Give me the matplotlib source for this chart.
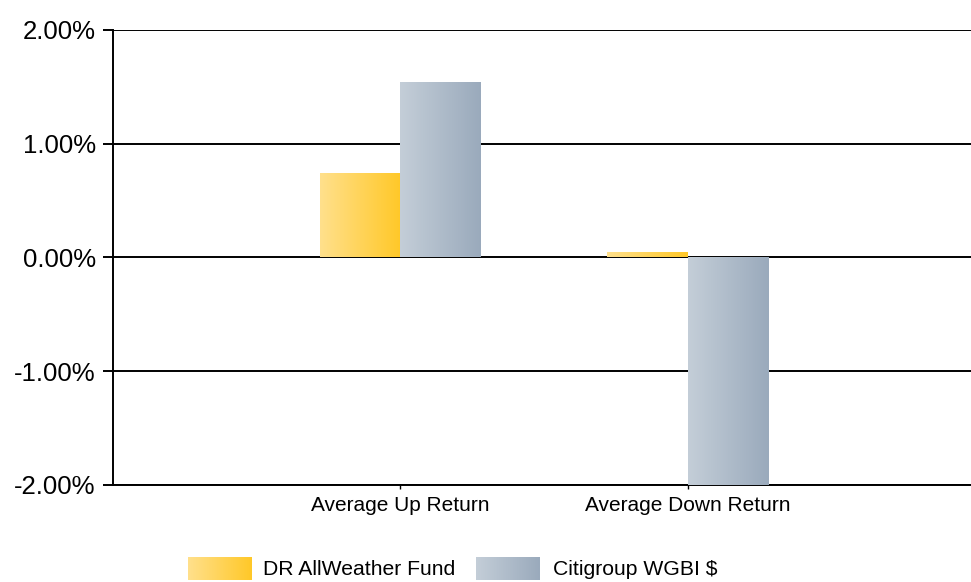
import numpy as np
import matplotlib.pyplot as plt
from matplotlib.colors import LinearSegmentedColormap

plt.rcParams['font.family'] = ['Liberation Sans', 'DejaVu Sans']

categories = ["Average Up Return", "Average Down Return"]
series_names = ["DR AllWeather Fund", "Citigroup WGBI $"]
fund = [0.73, 0.04]
index = [1.53, -2.00]
yticks = [-2, -1, 0, 1, 2]

yellow = LinearSegmentedColormap.from_list("yel", ["#FFE08C", "#FFC828"])
grey = LinearSegmentedColormap.from_list("gry", ["#C4CED8", "#9AAABC"])
grad = np.linspace(0, 1, 256).reshape(1, -1)

fig = plt.figure(figsize=(9.71, 5.82), dpi=100)
ax = fig.add_axes([0.1164, 0.1667, 0.888, 0.7818])

x = np.arange(len(categories))
w = 0.28
b1 = ax.bar(x - w / 2, fund, w, color="none", zorder=3)
b2 = ax.bar(x + w / 2, index, w, color="none", zorder=3)

# gradient fill for each bar
for bars, cm in [(b1, yellow), (b2, grey)]:
    for r in bars:
        x0, y0 = r.get_x(), r.get_y()
        x1, y1 = x0 + r.get_width(), y0 + r.get_height()
        ax.imshow(grad, cmap=cm, aspect="auto", zorder=3,
                  extent=[x0, x1, min(y0, y1), max(y0, y1)])

ax.set_xlim(-1, 2)
ax.set_ylim(-2, 2)
ax.set_yticks(yticks)
ax.set_yticklabels(["%.2f%%" % v for v in yticks])
ax.set_xticks(x)
ax.set_xticklabels(categories)

ax.grid(axis="y", color="black", linewidth=1.4, zorder=1)
ax.set_axisbelow(True)
for s in ["top", "right"]:
    ax.spines[s].set_visible(False)
for s in ["left", "bottom"]:
    ax.spines[s].set_linewidth(1.4)
ax.tick_params(axis="y", length=7.5, width=1.4, pad=5, labelsize=18.5)
ax.tick_params(axis="x", length=3, width=1.0, pad=5, labelsize=15)

# legend drawn by hand so the swatches carry the gradients
legend_items = [(0.1936, 0.2709, yellow), (0.4902, 0.5695, grey)]
for (px, tx, cm), name in zip(legend_items, series_names):
    lax = fig.add_axes([px, 0.0034, 0.0659, 0.0395])
    lax.imshow(grad, cmap=cm, aspect="auto")
    lax.axis("off")
    fig.text(tx, 0.022, name, fontsize=15.2, va="center", ha="left")

fig.savefig("out.png", dpi=100)
